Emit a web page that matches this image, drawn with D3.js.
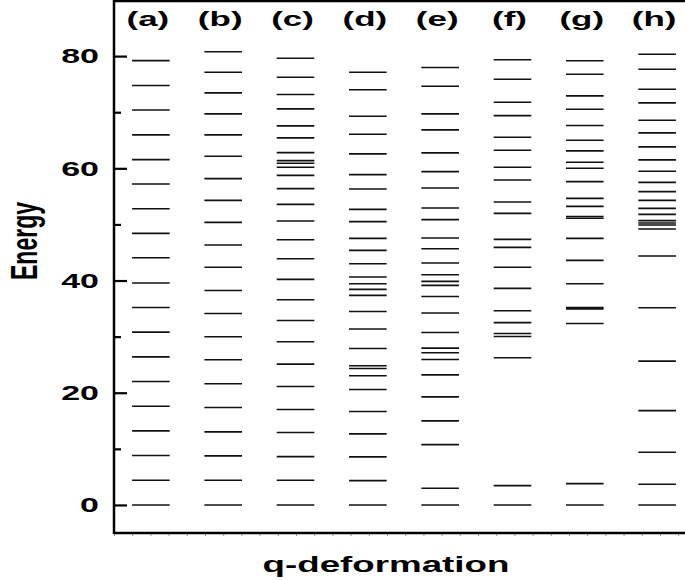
<!DOCTYPE html>
<html>
<head>
<meta charset="utf-8">
<script src="https://cdn.jsdelivr.net/npm/d3@7"></script>
<style>
    body { margin: 0; background: #fff; }
    text { font-family: "Liberation Sans", Arial, Helvetica, sans-serif; font-weight: bold; fill: #000; }
</style>
</head>
<body>
<svg class="chart"></svg>
<script>
// Column labels
var columns = ["(a)", "(b)", "(c)", "(d)", "(e)", "(f)", "(g)", "(h)"];

// Energy levels
var levelsA = [0, 4.4, 8.8, 13.2, 17.6, 22.0, 26.4, 30.8, 35.2, 39.55, 44.07, 48.4, 52.8, 57.2, 61.55, 65.96, 70.4, 74.75, 79.2];
var levelsB = [0, 4.4, 8.74, 13.02, 17.36, 21.59, 25.87, 29.97, 34.13, 38.23, 42.37, 46.33, 50.37, 54.29, 58.16, 62.14, 65.96, 69.7, 73.45, 77.13, 80.77];
var levelsC = [0, 4.4, 8.62, 12.9, 17.0, 21.1, 25.1, 29.08, 32.88, 36.57, 40.2, 43.89, 47.28, 50.6, 53.58, 56.38, 58.75, 60.18, 60.9, 61.37, 62.8, 65.42, 67.57, 70.6, 73.15, 76.23, 79.63];
var levelsD = [0, 4.34, 8.56, 12.67, 16.65, 20.57, 23.02, 24.32, 24.8, 27.89, 31.35, 34.49, 37.35, 38.42, 39.43, 40.62, 43.0, 45.37, 47.51, 50.49, 52.69, 56.32, 58.88, 62.57, 66.07, 69.28, 73.99, 77.13];
var levelsE = [0, 2.97, 10.76, 14.99, 19.27, 23.19, 25.92, 27.12, 27.96, 30.74, 34.2, 37.16, 39.13, 39.84, 41.03, 43.12, 45.67, 47.58, 50.85, 52.93, 56.5, 59.41, 62.75, 66.85, 69.7, 74.63, 77.97];
var levelsF = [0, 3.45, 26.23, 30.03, 30.56, 32.5, 34.6, 38.6, 42.37, 45.9, 47.33, 51.97, 54.0, 57.93, 60.18, 63.21, 65.53, 69.4, 71.78, 75.88, 79.34];
var levelsG = [0, 3.8, 32.35, 34.95, 35.2, 39.43, 43.59, 47.51, 51.1, 51.4, 53.22, 54.65, 57.63, 60.0, 61.07, 63.1, 65.0, 67.62, 70.53, 72.92, 76.77, 79.16];
var levelsH = [0, 3.69, 9.4, 16.82, 25.64, 35.15, 44.37, 49.19, 49.9, 50.26, 50.67, 51.79, 52.86, 54.29, 55.84, 57.5, 59.47, 61.5, 63.82, 66.31, 68.56, 71.67, 74.1, 77.66, 80.34];

// Y-axis tick labels
var yTicks = [0, 20, 40, 60, 80];

var allLevels = [levelsA, levelsB, levelsC, levelsD, levelsE, levelsF, levelsG, levelsH];

var width = 685, height = 580;
var plotLeft = 114, plotTop = 0, plotBottom = 533, plotRight = 694;
var stretch = 1.7;  // the lettering in the figure is wide

var chart = d3.select(".chart")
    .attr("width", width)
    .attr("height", height);

// Scales
var x = d3.scaleBand()
    .domain(columns)
    .range([plotLeft, plotRight])
    .paddingInner(0.48)
    .paddingOuter(0.25);
var y = d3.scaleLinear()
    .domain([-5, 90])
    .range([plotBottom, plotTop]);

// Flat list of level segments
var rows = [];
allLevels.forEach(function(list, i) {
    list.forEach(function(e) { rows.push({ col: columns[i], e: e }); });
});

chart.selectAll(".level")
        .data(rows)
    .enter().append("line")
        .attr("class", "level")
        .attr("x1", function(d) { return x(d.col); })
        .attr("x2", function(d) { return x(d.col) + x.bandwidth(); })
        .attr("y1", function(d) { return y(d.e); })
        .attr("y2", function(d) { return y(d.e); })
        .attr("stroke", "#111")
        .attr("stroke-width", 1.6);

// Left axis: inward ticks, major every 20, minor every 10
var yMajor = d3.axisRight(y).tickValues(yTicks).tickSize(13).tickFormat("");
var yMinor = d3.axisRight(y).tickValues([10, 30, 50, 70]).tickSize(7).tickFormat("");
[yMajor, yMinor].forEach(function(ax) {
    var g = chart.append("g")
        .attr("transform", "translate(" + plotLeft + ",0)")
        .call(ax);
    g.select(".domain").remove();
    g.selectAll(".tick line").attr("stroke", "#000").attr("stroke-width", 2.2);
});

// Bottom axis with tiny ticks
var xb = d3.scaleLinear().domain([0, 32]).range([plotLeft, plotLeft + 32 * 18.2]);
var xAxis = chart.append("g")
    .attr("transform", "translate(0," + plotBottom + ")")
    .call(d3.axisBottom(xb).ticks(32).tickSize(3).tickFormat(""));
xAxis.select(".domain").remove();
xAxis.selectAll(".tick line").attr("stroke", "#999").attr("stroke-width", 1);

// Frame
chart.append("line").attr("x1", plotLeft).attr("x2", width).attr("y1", plotBottom).attr("y2", plotBottom)
    .attr("stroke", "#000").attr("stroke-width", 2.5);
chart.append("line").attr("x1", plotLeft).attr("x2", width).attr("y1", 1).attr("y2", 1)
    .attr("stroke", "#000").attr("stroke-width", 2.5);
chart.append("line").attr("x1", plotLeft).attr("x2", plotLeft).attr("y1", 0).attr("y2", plotBottom + 1)
    .attr("stroke", "#000").attr("stroke-width", 2.5);

// Tick labels
chart.selectAll(".ylabel")
        .data(yTicks)
    .enter().append("text")
        .attr("class", "ylabel")
        .attr("transform", function(d) { return "translate(99," + y(d) + ") scale(" + stretch + ",1)"; })
        .attr("dy", ".36em")
        .attr("text-anchor", "end")
        .style("font-size", "20px")
        .text(function(d) { return d; });

// Column labels, sitting a little left of each column's centre
chart.selectAll(".clabel")
        .data(columns)
    .enter().append("text")
        .attr("class", "clabel")
        .attr("transform", function(d) { return "translate(" + (x(d) + x.bandwidth() / 2 - 3) + ",25.5) scale(1.75,1)"; })
        .attr("text-anchor", "middle")
        .style("font-size", "20px")
        .text(function(d) { return d; });

// Axis titles
chart.append("text")
    .attr("transform", "translate(36.7,241) scale(1.62,1) rotate(-90)")
    .attr("text-anchor", "middle")
    .style("font-size", "23px")
    .text("Energy");

chart.append("text")
    .attr("transform", "translate(386,571.7) scale(1.67,1)")
    .attr("text-anchor", "middle")
    .style("font-size", "22px")
    .text("q-deformation");
</script>
</body>
</html>
